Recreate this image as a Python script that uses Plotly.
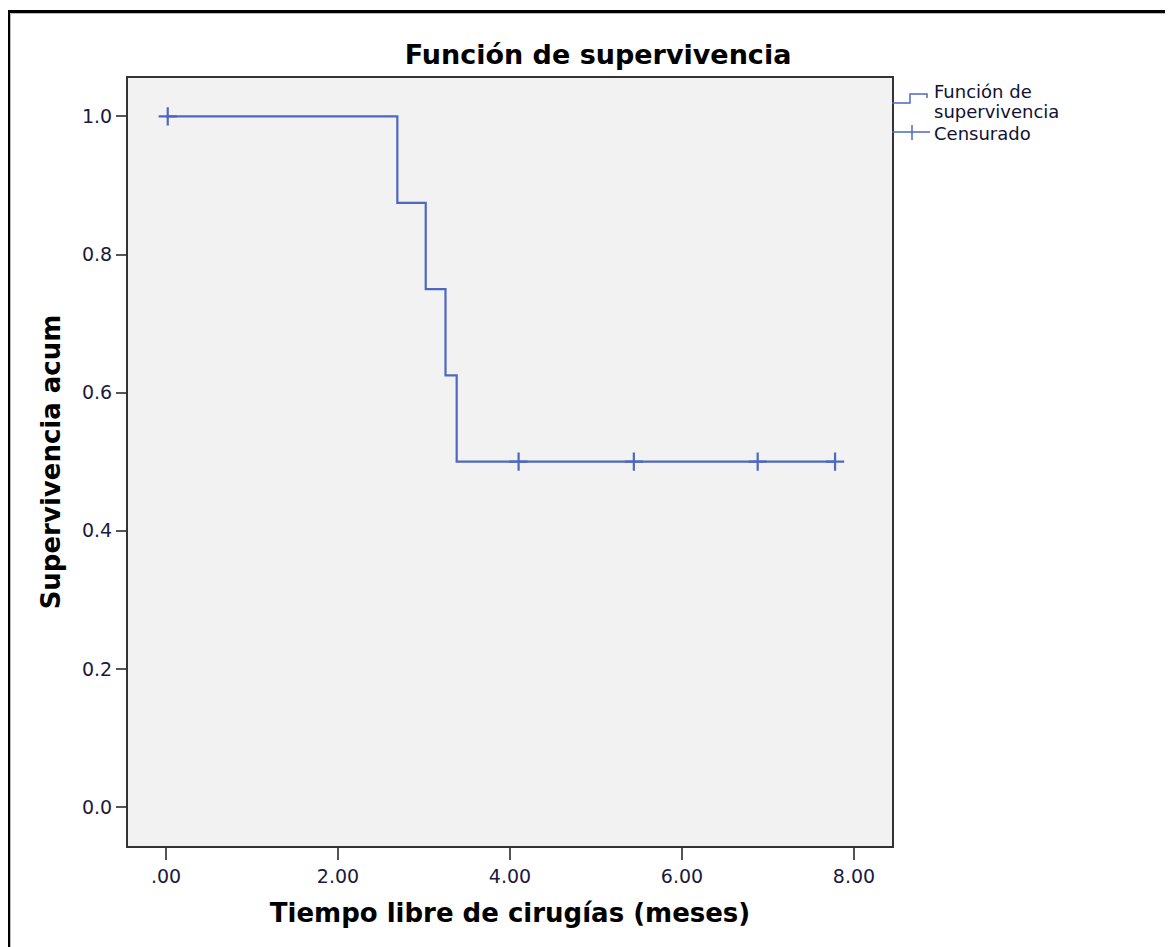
import plotly.graph_objects as go

# Data
step_times = [0.0, 2.69, 3.02, 3.25, 3.38, 7.78]
step_surv = [1.0, 0.875, 0.75, 0.625, 0.5, 0.5]
censor_times = [0.02, 4.10, 5.44, 6.88, 7.78]
censor_surv = [1.0, 0.5, 0.5, 0.5, 0.5]
x_tick_vals = [0, 2, 4, 6, 8]
x_tick_text = [".00", "2.00", "4.00", "6.00", "8.00"]
y_tick_vals = [0.0, 0.2, 0.4, 0.6, 0.8, 1.0]
y_tick_text = ["0.0", "0.2", "0.4", "0.6", "0.8", "1.0"]

OFF = 8  # page body margin
W, H = 1173 - OFF, 947 - OFF
# plot area in screenshot pixels
L, R, T, B = 128, 892, 78, 846
LINE = "#4d68c0"
FONT = "DejaVu Sans"


def px(x):
    return (x - L) / (R - L)


def py(y):
    return (B - y) / (B - T)


fig = go.Figure()
fig.add_trace(go.Scatter(
    x=step_times, y=step_surv, mode="lines", line=dict(color=LINE, width=2.2, shape="hv"),
    showlegend=False, hoverinfo="skip"))
fig.add_trace(go.Scatter(
    x=censor_times, y=censor_surv, mode="markers",
    marker=dict(symbol="cross-thin", size=13, line=dict(color=LINE, width=2.2)),
    showlegend=False, hoverinfo="skip"))

shapes = []
# Outer frame (top and left)
shapes.append(dict(type="path", xref="paper", yref="paper",
                   path=f"M {px(8.5)},{py(960)} L {px(8.5)},{py(11.5)} L {px(1180)},{py(11.5)}",
                   line=dict(color="black", width=3)))
shapes.append(dict(type="path", xref="paper", yref="paper",
                   path=f"M {px(10.5)},{py(960)} L {px(10.5)},{py(13.5)} L {px(1180)},{py(13.5)}",
                   line=dict(color="#bbbbbb", width=1)))
# Legend symbols
shapes.append(dict(type="path", xref="paper", yref="paper",
                   path=f"M {px(892)},{py(103)} L {px(910)},{py(103)} L {px(910)},{py(94)} L {px(927)},{py(94)} L {px(927)},{py(98)}",
                   line=dict(color=LINE, width=1.5)))
shapes.append(dict(type="line", xref="paper", yref="paper",
                   x0=px(892), x1=px(930), y0=py(132), y1=py(132),
                   line=dict(color=LINE, width=1.5)))
shapes.append(dict(type="line", xref="paper", yref="paper",
                   x0=px(912), x1=px(912), y0=py(125), y1=py(140),
                   line=dict(color=LINE, width=1.5)))

annotations = []
for txt, yy in [("Función de", 92), ("supervivencia", 111), ("Censurado", 134)]:
    annotations.append(dict(text=txt, xref="paper", yref="paper", x=px(932), y=py(yy),
                            xanchor="left", yanchor="middle", showarrow=False,
                            font=dict(family=FONT, size=18, color="#111133")))

fig.update_layout(
    width=W, height=H,
    margin=dict(l=L - OFF, r=W - (R - OFF), t=T - OFF, b=H - (B - OFF)),
    paper_bgcolor="white", plot_bgcolor="#F2F2F2",
    title=dict(text="<b>Función de supervivencia</b>", xref="container", yref="container",
               x=(598 - OFF) / W, y=1 - (55 - OFF) / H, xanchor="center", yanchor="middle",
               font=dict(family=FONT, size=27, color="black")),
    shapes=shapes, annotations=annotations,
    showlegend=False,
)
fig.update_xaxes(
    range=[-0.442, 8.442], tickvals=x_tick_vals, ticktext=x_tick_text,
    showgrid=False, zeroline=False, showline=True, linecolor="#333333", linewidth=2, mirror=True,
    ticks="outside", ticklen=12, tickwidth=2, tickcolor="#555555",
    tickfont=dict(family=FONT, size=19, color="#1a1a40"),
    title=dict(text="<b>Tiempo libre de cirugías (meses)</b>", standoff=18,
               font=dict(family=FONT, size=26, color="black")),
)
fig.update_yaxes(
    range=[-0.0565, 1.0557], tickvals=y_tick_vals, ticktext=y_tick_text,
    showgrid=False, zeroline=False, showline=True, linecolor="#333333", linewidth=2, mirror=True,
    ticks="outside", ticklen=10, tickwidth=2, tickcolor="#555555",
    tickfont=dict(family=FONT, size=19, color="#1a1a40"),
    title=dict(text="<b>Supervivencia acum</b>", standoff=14,
               font=dict(family=FONT, size=26, color="black")),
)

fig.write_html("out.html")
